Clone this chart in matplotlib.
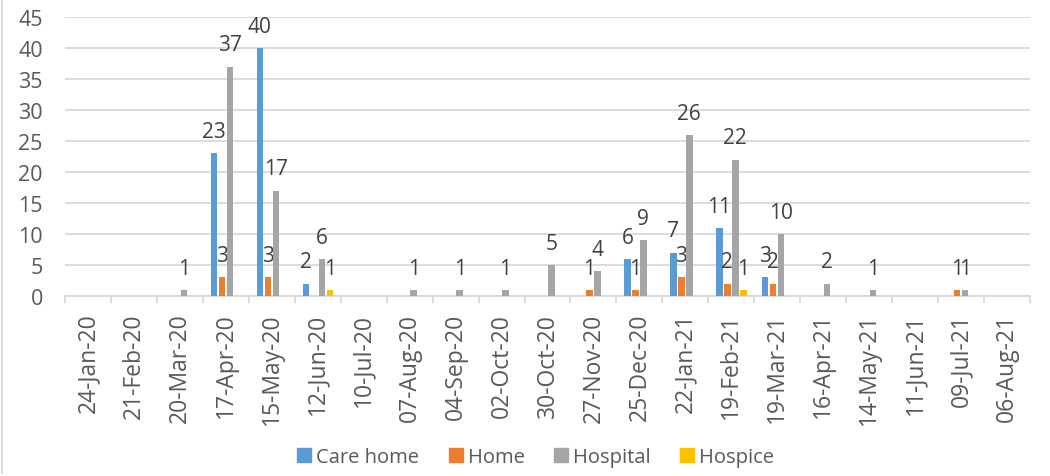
import numpy as np
import matplotlib
matplotlib.use('Agg')
from matplotlib import pyplot as plt
from matplotlib.lines import Line2D

dates = ['24-Jan-20', '21-Feb-20', '20-Mar-20', '17-Apr-20', '15-May-20', '12-Jun-20',
         '10-Jul-20', '07-Aug-20', '04-Sep-20', '02-Oct-20', '30-Oct-20', '27-Nov-20',
         '25-Dec-20', '22-Jan-21', '19-Feb-21', '19-Mar-21', '16-Apr-21', '14-May-21',
         '11-Jun-21', '09-Jul-21', '06-Aug-21']
care_home = [0, 0, 0, 23, 40, 2, 0, 0, 0, 0, 0, 0, 6, 7, 11, 3, 0, 0, 0, 0, 0]
home      = [0, 0, 0, 3, 3, 0, 0, 0, 0, 0, 0, 1, 1, 3, 2, 2, 0, 0, 0, 1, 0]
hospital  = [0, 0, 1, 37, 17, 6, 0, 1, 1, 1, 5, 4, 9, 26, 22, 10, 2, 1, 0, 1, 0]
hospice   = [0, 0, 0, 0, 0, 1, 0, 0, 0, 0, 0, 0, 0, 0, 1, 0, 0, 0, 0, 0, 0]

series = [('Care home', care_home, '#5B9BD5'),
          ('Home', home, '#ED7D31'),
          ('Hospital', hospital, '#A5A5A5'),
          ('Hospice', hospice, '#FFC000')]

plt.rcParams['font.family'] = ['Open Sans', 'DejaVu Sans']

fig = plt.figure(figsize=(10.5, 4.77), dpi=100)
ax = fig.add_axes([65 / 1050, (477 - 297) / 477, 965 / 1050, 279 / 477])

x = np.arange(len(dates))
step = 0.174
width = 0.14
for i, (name, vals, col) in enumerate(series):
    pos = x + (i - 1.5) * step
    ax.bar(pos, vals, width=width, color=col, label=name, zorder=3)
    for px, v in zip(pos, vals):
        if v:
            ax.annotate(str(v), (px, v), xytext=(0, 8), textcoords='offset points',
                        ha='center', va='bottom', fontsize=15, color='#404040')

ax.set_xlim(-0.5, len(dates) - 0.5)
ax.set_ylim(0, 45)
ax.set_yticks(range(0, 46, 5))
ax.yaxis.grid(True, color='#D9D9D9', linewidth=1.3, zorder=0)
ax.set_axisbelow(True)

ax.set_xticks(x)
ax.set_xticklabels(dates, rotation=90, fontsize=16.5, color='#595959')
ax.set_xticks(np.arange(-0.5, len(dates)), minor=True)
ax.tick_params(axis='x', which='major', length=0, pad=12)
ax.tick_params(axis='x', which='minor', length=5, color='#D9D9D9', width=1.3)
ax.tick_params(axis='y', length=0, labelsize=15.5, labelcolor='#595959', pad=16)

for s in ['top', 'right', 'left']:
    ax.spines[s].set_visible(False)
ax.spines['bottom'].set_color('#D9D9D9')
ax.spines['bottom'].set_linewidth(1.3)

handles = [Line2D([], [], marker='s', linestyle='', markersize=10,
                  markerfacecolor=c, markeredgecolor=c) for _, _, c in series]
fig.legend(handles, [s[0] for s in series], loc='center', bbox_to_anchor=(534 / 1050, 1 - 458 / 477),
           ncol=4, frameon=False, fontsize=14.5, labelcolor='#595959', handletextpad=0.1,
           columnspacing=1.3, handlelength=1.0)

fig.add_artist(Line2D([1.5 / 1050, 1.5 / 1050], [3 / 477, 1], transform=fig.transFigure,
                      color='#D9D9D9', linewidth=1.3))

fig.savefig('out.png', dpi=100)
